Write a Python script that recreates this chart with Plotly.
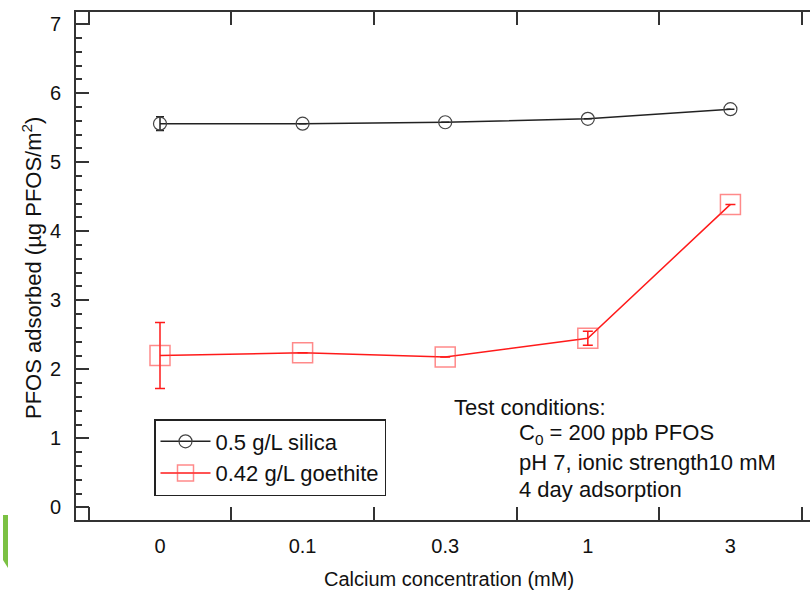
import plotly.graph_objects as go

categories = ["0", "0.1", "0.3", "1", "3"]
silica = [5.56, 5.56, 5.58, 5.63, 5.77]
silica_err = [0.1, 0.0, 0.0, 0.0, 0.0]
goethite = [2.20, 2.24, 2.18, 2.45, 4.39]
goethite_err = [0.48, 0.0, 0.0, 0.1, 0.0]
y_ticks = [0, 1, 2, 3, 4, 5, 6, 7]

FONT = "Liberation Sans, Arial, sans-serif"
W, H = 810, 596
L, R, T, B = 76, 810, 12, 520
YRANGE = [-0.184, 7.178]

def px(xp):
    return (xp - L) / (R - L)

def py(yp):
    return (B - yp) / (B - T)

fig = go.Figure()
fig.add_trace(go.Scatter(
    x=categories, y=silica, name="0.5 g/L silica", mode="lines+markers",
    line=dict(color="#222222", width=1.5),
    marker=dict(symbol="circle-open", size=13, color="#444444", line=dict(width=1.2)),
    error_y=dict(type="data", array=silica_err, visible=True, color="#222222", thickness=1.5, width=4),
))
fig.add_trace(go.Scatter(
    x=categories, y=goethite, name="0.42 g/L goethite", mode="lines+markers",
    line=dict(color="#ff1a1a", width=1.5),
    marker=dict(symbol="square-open", size=20, color="rgba(255,60,60,0.6)", line=dict(width=1.5)),
    error_y=dict(type="data", array=goethite_err, visible=True, color="#ff1a1a", thickness=1.5, width=5),
))

tick_style = dict(ticks="inside", ticklen=13, tickwidth=1.5, tickcolor="#333333",
                  showgrid=False, zeroline=False,
                  tickfont=dict(family=FONT, size=20, color="#111111"))
minor_style = dict(dtick=0.2, ticks="inside", ticklen=6, tickwidth=1.5, tickcolor="#333333")

fig.update_layout(
    width=W, height=H,
    margin=dict(l=L, r=W - R, t=T, b=H - B),
    paper_bgcolor="white", plot_bgcolor="white",
    font=dict(family=FONT, size=20, color="#111111"),
    xaxis=dict(type="category", range=[-0.589, 4.558], tickson="boundaries",
               showline=True, linecolor="#333333", linewidth=2, mirror="ticks",
               ticklabelstandoff=7, **tick_style),
    yaxis=dict(range=YRANGE, tickvals=y_ticks, ticklabelstandoff=9,
               showline=True, linecolor="#333333", linewidth=2, mirror=False,
               minor=minor_style, **tick_style),
    yaxis2=dict(range=YRANGE, tickvals=y_ticks, overlaying="y", side="right", anchor="x",
                showline=False, showticklabels=False, minor=minor_style, **tick_style),
    legend=dict(x=px(154), y=py(419), xanchor="left", yanchor="top",
                bordercolor="#222222", borderwidth=1.5, bgcolor="white",
                font=dict(family=FONT, size=22, color="#111111"),
                itemwidth=50, tracegroupgap=0),
    showlegend=True,
)

annots = [
    dict(text="Test conditions:", x=px(452), y=py(407)),
    dict(text="C<sub>0</sub> = 200 ppb PFOS", x=px(517), y=py(434)),
    dict(text="pH 7, ionic strength10 mM", x=px(517), y=py(462)),
    dict(text="4 day adsorption", x=px(517), y=py(489)),
]
for a in annots:
    fig.add_annotation(xref="paper", yref="paper", xanchor="left", yanchor="middle",
                       showarrow=False, font=dict(family=FONT, size=22, color="#111111"), **a)

fig.add_annotation(text="Calcium concentration (mM)", xref="paper", yref="paper",
                   x=px(449), y=py(579), xanchor="center", yanchor="middle", showarrow=False,
                   font=dict(family=FONT, size=20, color="#111111"))
fig.add_annotation(text="PFOS adsorbed (µg PFOS/m<sup>2</sup>)", xref="paper", yref="paper",
                   x=px(32), y=py(268), xanchor="center", yanchor="middle", showarrow=False,
                   textangle=-90, font=dict(family=FONT, size=22, color="#111111"))

fig.add_shape(type="path", xref="paper", yref="paper",
              path=f"M {px(3)},{py(515)} L {px(8)},{py(515)} L {px(8)},{py(568)} L {px(3)},{py(560)} Z",
              fillcolor="#7bc143", line=dict(width=0), layer="above")

fig.write_html("out.html", config={"displayModeBar": False},
               post_script="document.body.style.margin='0';document.body.style.overflow='hidden';")
